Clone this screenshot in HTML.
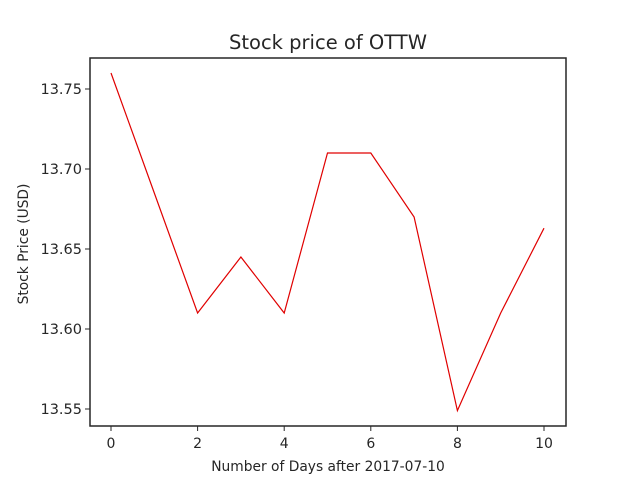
<!DOCTYPE html>
<html><head><meta charset="utf-8"><style>
body{margin:0;background:#fff;}
svg text{font-family:"DejaVu Sans","Liberation Sans",sans-serif;fill:#262626;}
</style></head><body>
<svg id="chart" width="640" height="480">
<rect width="640" height="480" fill="#fff"/>
<text x="328" y="49" font-size="19.5" text-anchor="middle">Stock price of OTTW</text>
<g id="axes"></g>
<text x="328" y="471" font-size="13.8" text-anchor="middle">Number of Days after 2017-07-10</text>
<text transform="translate(28,244) rotate(-90)" font-size="13.8" text-anchor="middle">Stock Price (USD)</text>
</svg>
<script>
const days=[0,1,2,3,4,5,6,7,8,9,10];
const prices=[13.76,13.685,13.61,13.645,13.61,13.71,13.71,13.67,13.549,13.61,13.663];
const xTicks=[0,2,4,6,8,10];
const yTicks=[13.55,13.60,13.65,13.70,13.75];
const L=90,R=566,T=58,B=426;
const xs=v=>111+(v-0)*(544-111)/10;
const ys=v=>409-(v-13.55)*1600;
const ns="http://www.w3.org/2000/svg";
const g=document.getElementById('axes');
function mk(t,a){const e=document.createElementNS(ns,t);for(const k in a)e.setAttribute(k,a[k]);g.appendChild(e);return e;}
xTicks.forEach(v=>{
 const l=mk('line',{x1:xs(v),x2:xs(v),y1:B,y2:B+5,stroke:'#262626','stroke-width':1});
 
 
 const t=mk('text',{x:xs(v),y:B+22,'font-size':14,'text-anchor':'middle'});t.textContent=v;
 
 
});
yTicks.forEach(v=>{
 const l=mk('line',{x1:L-5,x2:L,y1:ys(v),y2:ys(v),stroke:'#262626','stroke-width':1});
 
 
 const t=mk('text',{x:L-8,y:ys(v)+5,'font-size':14.5,'text-anchor':'end'});t.textContent=v.toFixed(2);
 
 
});
const p=mk('polyline',{points:days.map((d,i)=>xs(d)+','+ys(prices[i])).join(' '),fill:'none',stroke:'#e00000','stroke-width':1.2});


const f=mk('rect',{x:L,y:T,width:R-L,height:B-T,fill:'none',stroke:'#262626','stroke-width':1.5});


</script>
</body></html>
